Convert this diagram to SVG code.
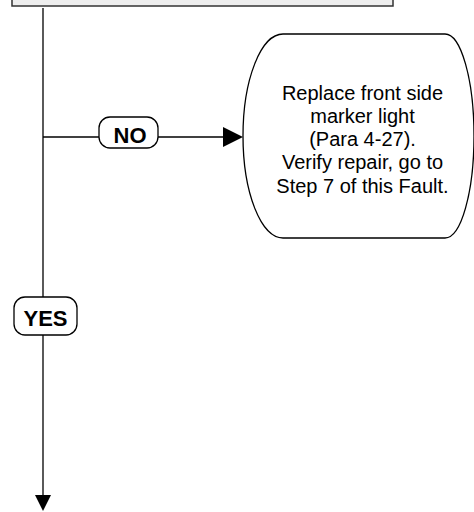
<svg xmlns="http://www.w3.org/2000/svg" width="474" height="512" viewBox="0 0 474 512">
<style>
.ln{stroke:#000;stroke-width:1.3;fill:none}
.lbl{fill:#fff;stroke:#000;stroke-width:1.3}
.lt{font-family:"Liberation Sans",Arial,sans-serif;font-weight:bold;font-size:22px;fill:#000;text-anchor:middle}
.bt{font-family:"Liberation Sans",Arial,sans-serif;font-size:20px;fill:#000;text-anchor:middle}
</style>
<rect width="474" height="512" fill="#fff"/>
<g id="top-box">
<rect x="12" y="-20" width="381" height="26" fill="#eeeeee" stroke="#333" stroke-width="1.5"/>
</g>
<g id="connectors">
<line class="ln" x1="43" y1="8" x2="43" y2="496"/>
<polygon points="35,495 51,495 43,511" fill="#000"/>
<line class="ln" x1="43" y1="137" x2="224" y2="137"/>
<polygon points="223,127 243,137 223,147" fill="#000"/>
</g>
<g id="no-label">
<rect class="lbl" x="99" y="117" width="59" height="31" rx="11"/>
<text class="lt" x="130" y="143">NO</text>
</g>
<g id="yes-label">
<rect class="lbl" x="14" y="297" width="63" height="38" rx="11"/>
<text class="lt" x="45.5" y="326">YES</text>
</g>
<g id="replace-node">
<path d="M283,34 L445,34 A29,102 0 0 1 445,238 L283,238 A40,102 0 0 1 283,34 Z" fill="#fff" stroke="#000" stroke-width="1.3"/>
<text class="bt" x="362.5" y="100">Replace front side</text>
<text class="bt" x="362.5" y="123">marker light</text>
<text class="bt" x="362.5" y="146">(Para 4-27).</text>
<text class="bt" x="362.5" y="169">Verify repair, go to</text>
<text class="bt" x="362.5" y="193">Step 7 of this Fault.</text>
</g>
</svg>
